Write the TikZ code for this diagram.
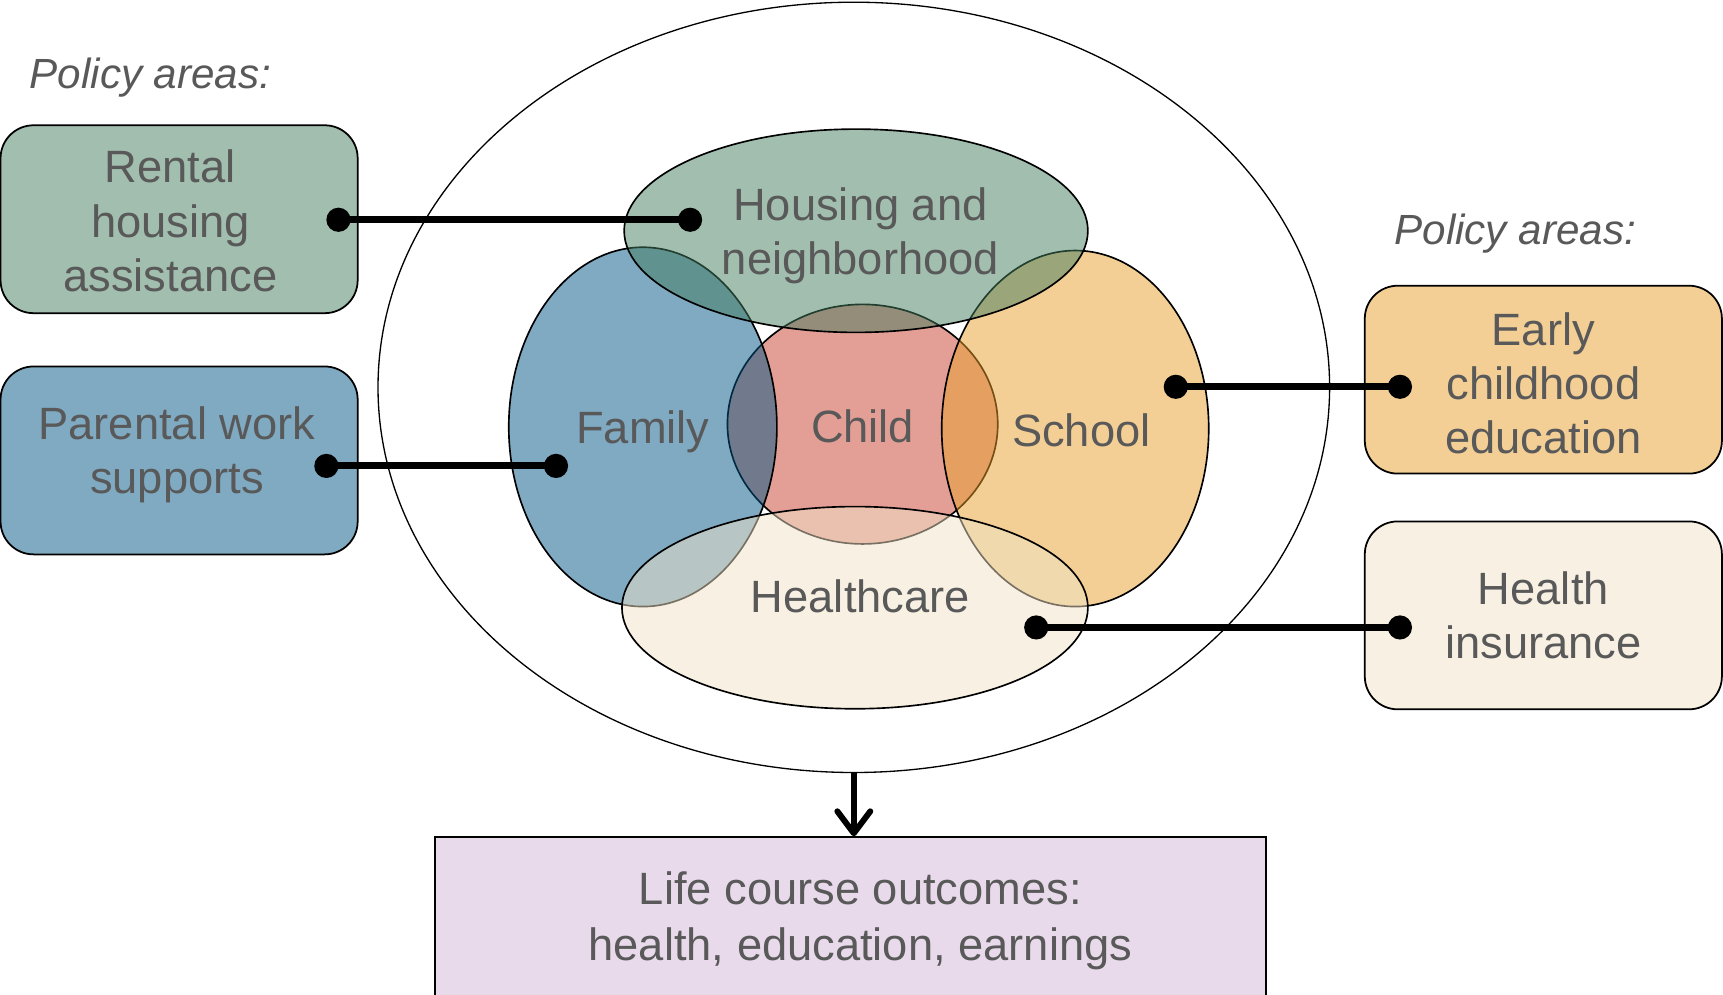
\documentclass[tikz,border=0pt]{standalone}
\usepackage{fontspec}
\setmainfont{Liberation Sans}
\usetikzlibrary{shapes.geometric,arrows.meta}
\definecolor{txt}{RGB}{89,89,89}
\definecolor{housingC}{RGB}{67,125,95}
\definecolor{familyC}{RGB}{0,85,133}
\definecolor{schoolC}{RGB}{231,159,45}
\definecolor{healthC}{RGB}{241,227,199}
\definecolor{childC}{RGB}{199,63,43}
\definecolor{rentalF}{RGB}{161,190,175}
\definecolor{parentF}{RGB}{127,170,194}
\definecolor{earlyF}{RGB}{243,207,150}
\definecolor{insF}{RGB}{248,241,227}
\definecolor{outF}{RGB}{232,218,234}
\newcommand\mainsz{\fontsize{20.6pt}{24.6pt}\selectfont}
\newcommand\titlesz{\fontsize{19.2pt}{23pt}\selectfont}
\begin{document}
\begin{tikzpicture}[x=0.5pt,y=-0.5pt,
  venn/.style={ellipse, draw=black, line width=0.75pt, fill opacity=0.5, inner sep=0pt, outer sep=0pt},
  policybox/.style={rectangle, rounded corners=15pt, draw=black, line width=0.8pt, inner sep=0pt, minimum width=162.5pt, minimum height=85.5pt},
  lbl/.style={text=txt, font=\mainsz, align=center, inner sep=0pt},
  ptitle/.style={text=txt, font=\titlesz\itshape, inner sep=0pt},
  link/.style={line width=3.2pt},
  dotend/.style={fill=black}
]
\useasboundingbox (0,0) rectangle (1568,905);
\clip (0,0) rectangle (1568,905);

% titles
\node[ptitle] (ptl) at (137,71) {Policy areas:};
\node[ptitle] (ptr) at (1379,213) {Policy areas:};

% policy boxes
\node[policybox, fill=rentalF] (rental) at (163,199.5) {};
\node[policybox, fill=parentF] (parental) at (163,419) {};
\node[policybox, fill=earlyF] (early) at (1404.5,345.5) {};
\node[policybox, fill=insF] (insurance) at (1404.5,560) {};
\node[lbl] (rentalT) at (155,201) {Rental\\housing\\assistance};
\node[lbl] (parentalT) at (161,414) {Parental work\\supports};
\node[lbl] (earlyT) at (1404.5,348.5) {Early\\childhood\\education};
\node[lbl] (insuranceT) at (1404.5,560) {Health\\insurance};

% outer ellipse
\node[ellipse, draw=black, line width=0.6pt, inner sep=0pt, minimum width=433pt, minimum height=350.5pt] (outer) at (777,352.5) {};

% venn shapes
\node[venn, fill=childC, minimum width=123pt, minimum height=109pt] (child) at (785,386) {};
\node[venn, fill=familyC, minimum width=122pt, minimum height=163.5pt] (family) at (585,388.5) {};
\node[venn, fill=schoolC, minimum width=121.5pt, minimum height=162pt] (school) at (978.5,390) {};
\node[venn, fill=housingC, minimum width=211pt, minimum height=92.5pt] (housing) at (779,210) {};
\node[venn, fill=healthC, minimum width=212pt, minimum height=92pt] (health) at (778,553) {};

% labels
\node[lbl] (housingT) at (783,214.5) {Housing and\\neighborhood};
\node[lbl] (familyT) at (585,393) {Family};
\node[lbl] (childT) at (785,388) {Child};
\node[lbl] (schoolT) at (984,392) {School};
\node[lbl] (healthT) at (783,543) {Healthcare};

% connectors
\coordinate (rentdot) at (308,200);
\coordinate (housedot) at (628,200);
\coordinate (pardot) at (297,424);
\coordinate (famdot) at (506,424);
\coordinate (schdot) at (1070,352);
\coordinate (earlydot) at (1274,352);
\coordinate (hcdot) at (943,571);
\coordinate (insdot) at (1274,571);
\draw[link] (rentdot) -- (housedot);
\draw[link] (pardot) -- (famdot);
\draw[link] (schdot) -- (earlydot);
\draw[link] (hcdot) -- (insdot);
\foreach \p in {rentdot,housedot,pardot,famdot,schdot,earlydot,hcdot,insdot}
  \fill[dotend] (\p) circle (5.5pt);

% outcomes
\node[rectangle, draw=black, line width=0.8pt, fill=outF, inner sep=0pt, minimum width=378pt, minimum height=110pt, anchor=north] (outcome) at (774,761) {};
\node[lbl, font=\fontsize{20.6pt}{25.5pt}\selectfont] (outcomeT) at (783,838) {Life course outcomes:\\health, education, earnings};
\draw[line width=2.7pt, -{Straight Barb[length=10pt,width=15pt,round]}] (outer.south) -- (outer.south |- outcome.north);
\end{tikzpicture}
\end{document}
